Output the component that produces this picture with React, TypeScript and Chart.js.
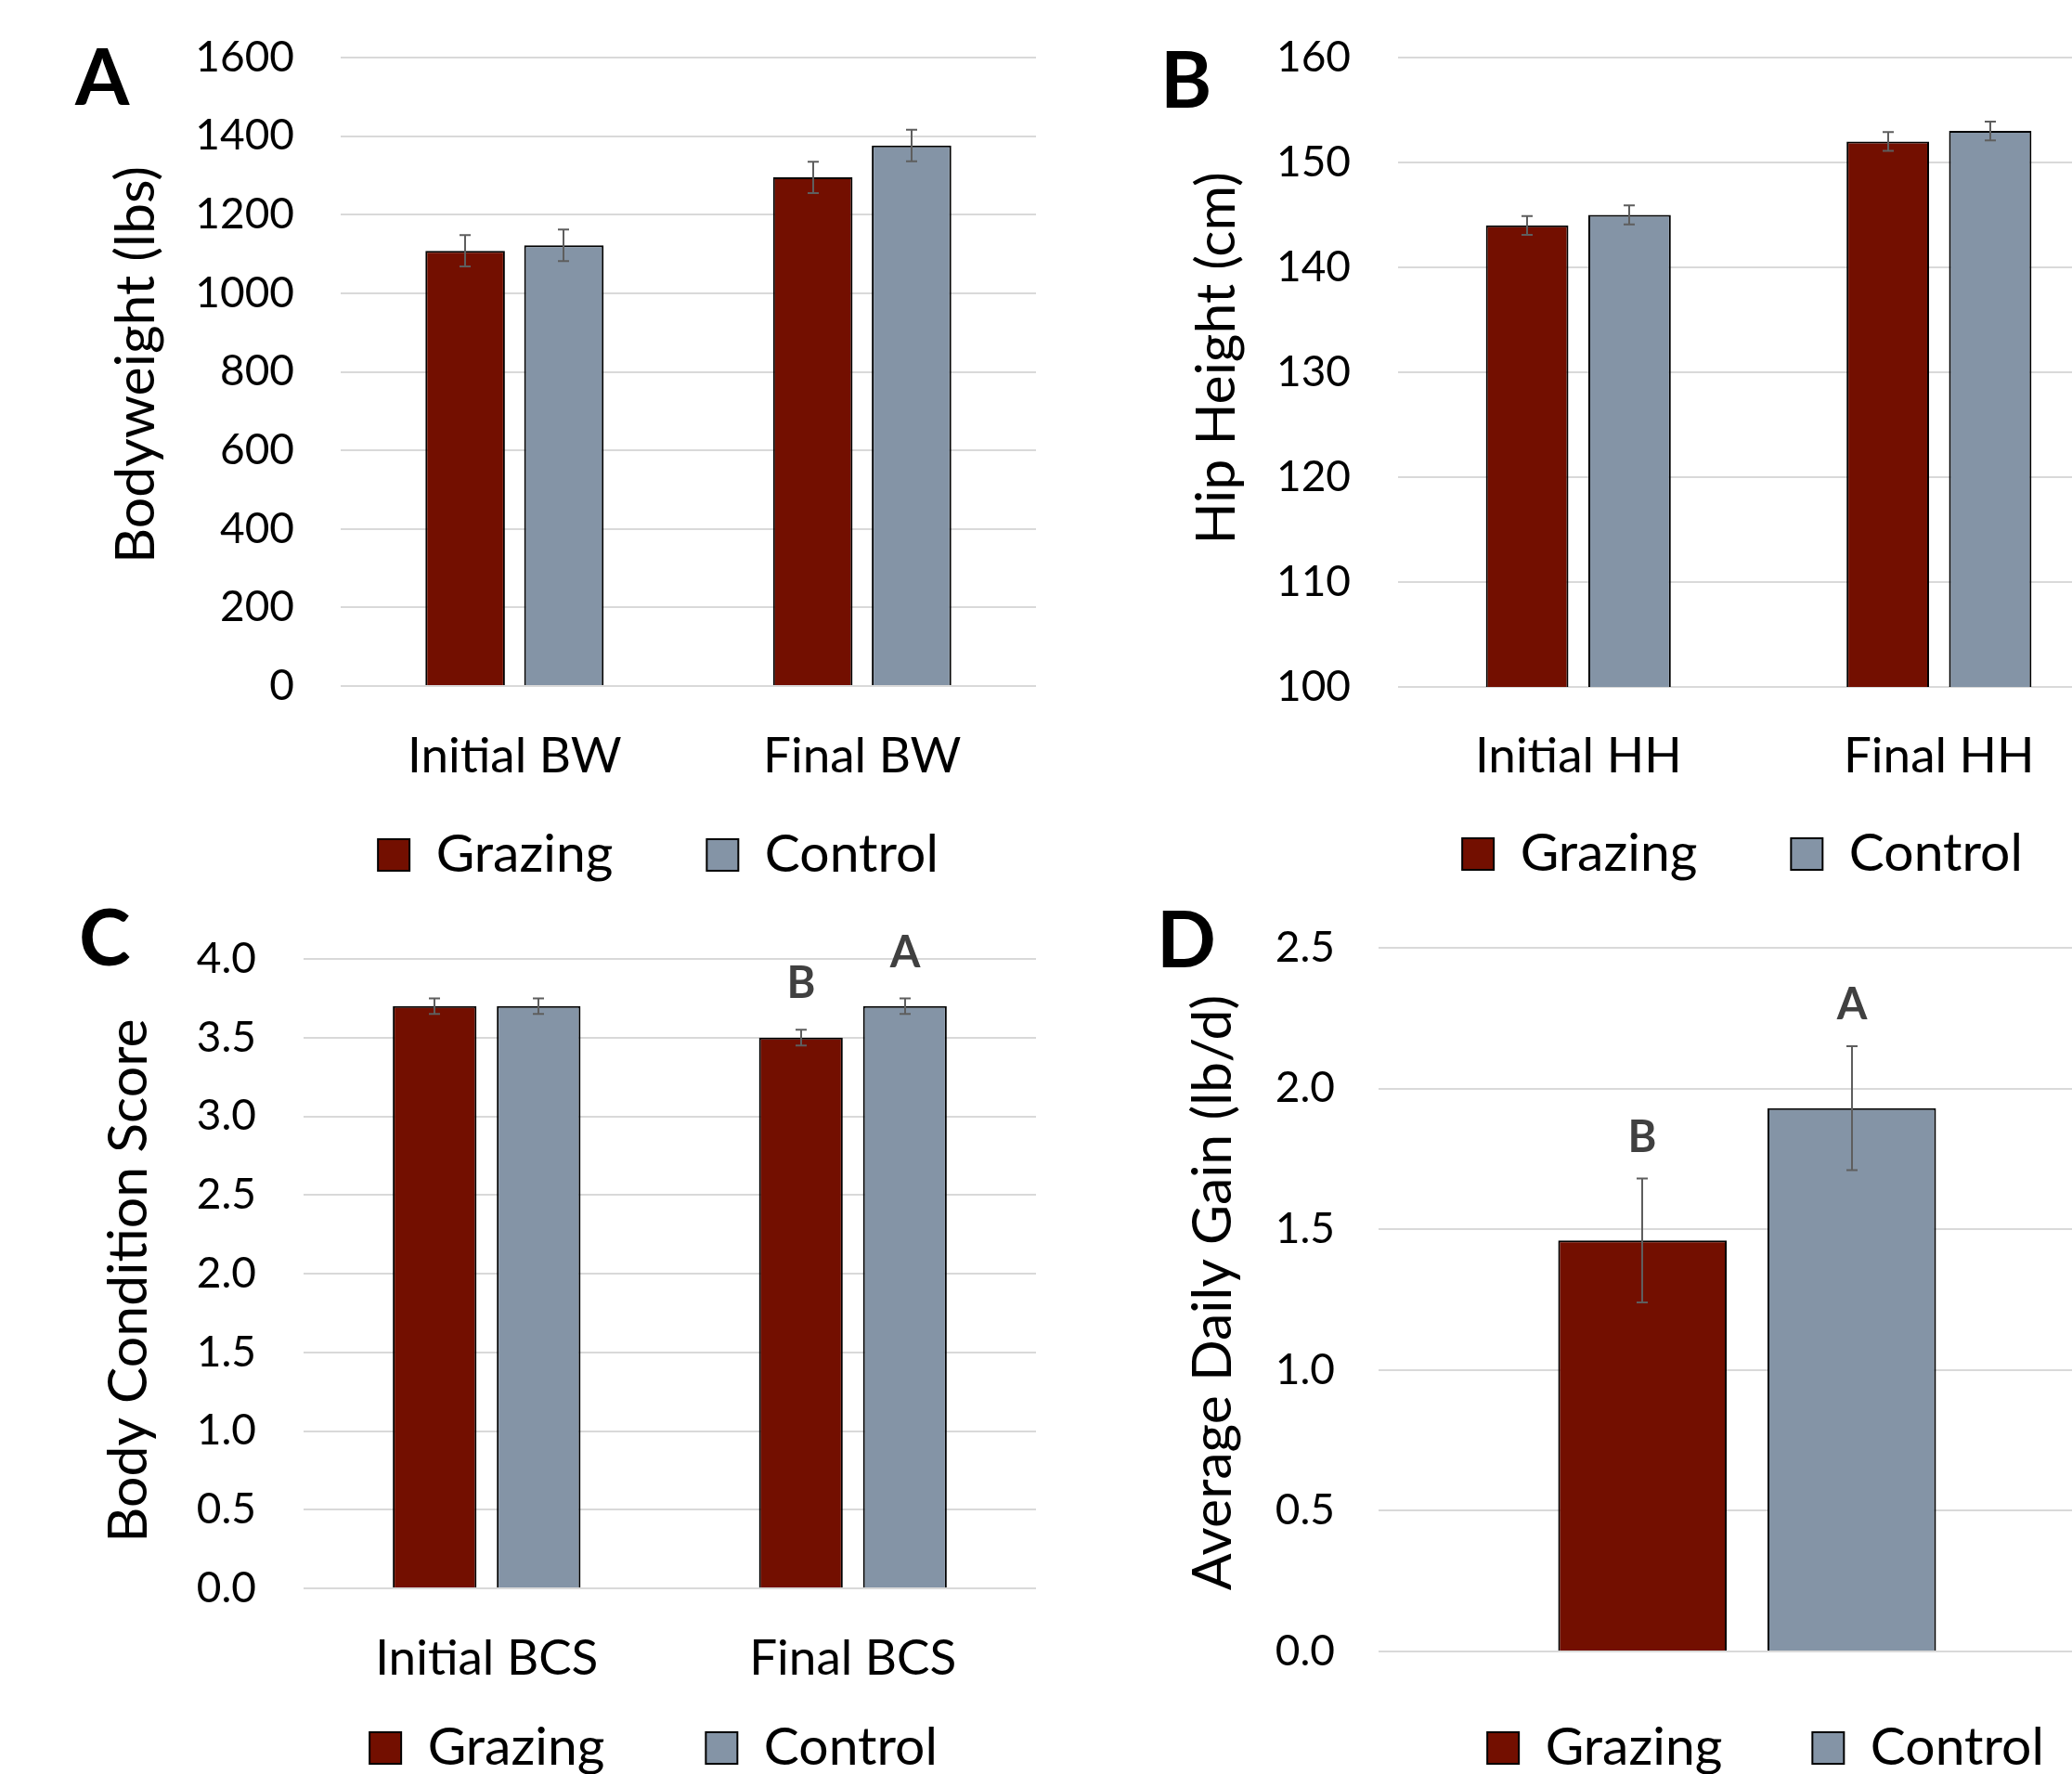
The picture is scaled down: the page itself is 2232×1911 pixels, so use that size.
import React, { useEffect, useRef } from 'react';
import { Chart, registerables } from 'chart.js';

Chart.register(...registerables);
Chart.defaults.font.family = 'Lato, "Open Sans", sans-serif';
Chart.defaults.color = '#000';

// ---------- data ----------
const seriesNames = ['Grazing', 'Control'];

// Panel A – Bodyweight
const bwCategories = ['Initial BW', 'Final BW'];
const bwGrazing = [1108, 1295];
const bwControl = [1122, 1376];
const bwGrazingErr = [40, 40];
const bwControlErr = [40, 40];
const bwTicks = [0, 200, 400, 600, 800, 1000, 1200, 1400, 1600];

// Panel B – Hip height
const hhCategories = ['Initial HH', 'Final HH'];
const hhGrazing = [144, 152];
const hhControl = [145, 153];
const hhGrazingErr = [0.9, 0.9];
const hhControlErr = [0.9, 0.9];
const hhTicks = [100, 110, 120, 130, 140, 150, 160];

// Panel C – Body condition score
const bcsCategories = ['Initial BCS', 'Final BCS'];
const bcsGrazing = [3.7, 3.5];
const bcsControl = [3.7, 3.7];
const bcsGrazingErr = [0.05, 0.05];
const bcsControlErr = [0.05, 0.05];
const bcsGrazingSig = ['', 'B'];
const bcsControlSig = ['', 'A'];
const bcsTicks = [0, 0.5, 1, 1.5, 2, 2.5, 3, 3.5, 4];

// Panel D – Average daily gain
const adgCategories = [''];
const adgGrazing = [1.46];
const adgControl = [1.93];
const adgGrazingErr = [0.22];
const adgControlErr = [0.22];
const adgGrazingSig = ['B'];
const adgControlSig = ['A'];
const adgTicks = [0, 0.5, 1, 1.5, 2, 2.5];

// ---------- styles ----------
const GRAZING_COLOR = '#730F00';
const CONTROL_COLOR = '#8494A6';
const GRID_COLOR = '#D9D9D9';
const ERR_COLOR = '#5E5E5E';

// ---------- plugins ----------
const errorBarsPlugin = {
  id: 'errorBars',
  afterDatasetsDraw(chart: any, _args: any, opts: any) {
    const ctx = chart.ctx;
    const yScale = chart.scales.y;
    chart.data.datasets.forEach((ds: any, i: number) => {
      const meta = chart.getDatasetMeta(i);
      meta.data.forEach((bar: any, j: number) => {
        const v = ds.data[j];
        const e = ds.errors ? ds.errors[j] : 0;
        const x = Math.round(bar.x);
        const yt = yScale.getPixelForValue(v + e);
        const yb = yScale.getPixelForValue(v - e);
        ctx.save();
        ctx.strokeStyle = ERR_COLOR;
        ctx.lineWidth = 2;
        ctx.beginPath();
        ctx.moveTo(x, yt);
        ctx.lineTo(x, yb);
        ctx.moveTo(x - 6, yt);
        ctx.lineTo(x + 6, yt);
        ctx.moveTo(x - 6, yb);
        ctx.lineTo(x + 6, yb);
        ctx.stroke();
        const s = ds.sig ? ds.sig[j] : '';
        if (s) {
          ctx.fillStyle = '#404040';
          ctx.font = 'bold 47px Lato, "Open Sans", sans-serif';
          ctx.textAlign = 'center';
          ctx.textBaseline = 'middle';
          ctx.fillText(s, x, yt - (opts.offset || 48));
        }
        ctx.restore();
      });
    });
  },
};

const panelLetterPlugin = {
  id: 'panelLetter',
  afterDraw(chart: any, _args: any, opts: any) {
    if (!opts || !opts.text) return;
    const ctx = chart.ctx;
    ctx.save();
    ctx.font = 'bold 84px Lato, "Open Sans", sans-serif';
    ctx.fillStyle = '#000';
    ctx.textAlign = 'left';
    ctx.textBaseline = 'alphabetic';
    ctx.fillText(opts.text, opts.x, opts.y);
    ctx.restore();
  },
};

const legendPlacePlugin = {
  id: 'legendPlace',
  afterLayout(chart: any, _args: any, opts: any) {
    const lg = chart.legend;
    if (!lg || opts.cx == null) return;
    const w = lg.right - lg.left;
    const h = lg.bottom - lg.top;
    lg.left = opts.cx - w / 2;
    lg.right = lg.left + w;
    lg.top = opts.cy - opts.gap - opts.itemHeight / 2;
    lg.bottom = lg.top + h;
  },
};

// ---------- layout specs ----------
const LEGEND_FONT = 57;
const BOX = 34;
const TITLE_FONT = 59;
const CAT_FONT = 53;

const panels: any[] = [
  {
    key: 'A', left: 0, top: 0, width: 1116, height: 1027,
    plotTop: 62, axisWidth: 367, xAxisHeight: 120,
    categories: bwCategories, grazing: bwGrazing, control: bwControl,
    grazingErr: bwGrazingErr, controlErr: bwControlErr,
    ticks: bwTicks, decimals: 0, yTitle: ' Bodyweight (lbs)', titlePad: 112,
    yTickPad: 50, xTickPad: 44, letter: 'A', letterX: 81, letterY: 113,
    legendX: 709, legendY: 921, legendGap: 101, sigOffset: 48,
  },
  {
    key: 'B', left: 1116, top: 0, width: 1167, height: 1028,
    plotTop: 62, axisWidth: 390, xAxisHeight: 120,
    categories: hhCategories, grazing: hhGrazing, control: hhControl,
    grazingErr: hhGrazingErr, controlErr: hhControlErr,
    ticks: hhTicks, decimals: 0, yTitle: '  Hip Height (cm)', titlePad: 160,
    yTickPad: 51, xTickPad: 43, letter: 'B', letterX: 134, letterY: 116,
    legendX: 761, legendY: 920, legendGap: 101, sigOffset: 48,
  },
  {
    key: 'C', left: 0, top: 960, width: 1116, height: 1047,
    plotTop: 73, axisWidth: 327, xAxisHeight: 120,
    categories: bcsCategories, grazing: bcsGrazing, control: bcsControl,
    grazingErr: bcsGrazingErr, controlErr: bcsControlErr,
    grazingSig: bcsGrazingSig, controlSig: bcsControlSig,
    ticks: bcsTicks, decimals: 1, yTitle: 'Body Condition Score ', titlePad: 104,
    yTickPad: 51, xTickPad: 44, letter: 'C', letterX: 85, letterY: 80,
    legendX: 704, legendY: 923, legendGap: 109, sigOffset: 49,
  },
  {
    key: 'D', left: 1116, top: 960, width: 1163, height: 993,
    plotTop: 61, axisWidth: 369, xAxisHeight: 10,
    categories: adgCategories, grazing: adgGrazing, control: adgControl,
    grazingErr: adgGrazingErr, controlErr: adgControlErr,
    grazingSig: adgGrazingSig, controlSig: adgControlSig,
    ticks: adgTicks, decimals: 1, yTitle: ' Average Daily Gain (lb/d)', titlePad: 156,
    yTickPad: 47, xTickPad: 43, letter: 'D', letterX: 130, letterY: 82,
    legendX: 786, legendY: 923, legendGap: 97, sigOffset: 44,
  },
];

function buildConfig(p: any): any {
  const common = {
    borderColor: '#000',
    borderWidth: 2,
    categoryPercentage: 0.568,
    barPercentage: 0.805,
  };
  return {
    type: 'bar',
    data: {
      labels: p.categories,
      datasets: [
        { ...common, label: seriesNames[0], data: p.grazing, errors: p.grazingErr, sig: p.grazingSig, backgroundColor: GRAZING_COLOR },
        { ...common, label: seriesNames[1], data: p.control, errors: p.controlErr, sig: p.controlSig, backgroundColor: CONTROL_COLOR },
      ],
    },
    options: {
      responsive: false,
      animation: false,
      devicePixelRatio: 1,
      events: [],
      layout: { padding: { top: p.plotTop, left: 0, right: 0, bottom: 0 } },
      scales: {
        x: {
          grid: { display: false, drawTicks: false },
          border: { display: false },
          ticks: { font: { size: CAT_FONT }, color: '#000', padding: p.xTickPad, maxRotation: 0, autoSkip: false },
          afterFit: (s: any) => {
            s.height = p.xAxisHeight;
            s.paddingLeft = 0;
            s.paddingRight = 0;
          },
        },
        y: {
          min: p.ticks[0],
          max: p.ticks[p.ticks.length - 1],
          afterBuildTicks: (s: any) => { s.ticks = p.ticks.map((v: number) => ({ value: v })); },
          ticks: {
            font: { size: 46 },
            color: '#000',
            padding: p.yTickPad,
            callback: (v: any) => Number(v).toFixed(p.decimals),
          },
          grid: { color: GRID_COLOR, lineWidth: 2, drawTicks: false },
          border: { display: false },
          title: {
            display: true,
            text: p.yTitle,
            font: { size: TITLE_FONT },
            color: '#000',
            padding: { top: p.titlePad, bottom: 0 },
          },
          afterFit: (s: any) => {
            s.width = p.axisWidth;
            s.paddingTop = 0;
            s.paddingBottom = 0;
          },
        },
      },
      plugins: {
        legend: {
          display: true,
          position: 'bottom',
          labels: {
            font: { size: LEGEND_FONT },
            color: '#000',
            boxWidth: BOX,
            boxHeight: BOX,
            padding: p.legendGap,
          },
        },
        tooltip: { enabled: false },
        errorBars: { offset: p.sigOffset },
        panelLetter: { text: p.letter, x: p.letterX, y: p.letterY },
        legendPlace: { cx: p.legendX, cy: p.legendY, gap: p.legendGap, itemHeight: Math.max(LEGEND_FONT, BOX) },
      },
    },
    plugins: [errorBarsPlugin, panelLetterPlugin, legendPlacePlugin],
  };
}

function Panel({ spec }: { spec: any }) {
  const ref = useRef<HTMLCanvasElement | null>(null);
  useEffect(() => {
    if (!ref.current) return;
    const chart = new Chart(ref.current, buildConfig(spec));
    return () => chart.destroy();
  }, [spec]);
  return (
    <canvas
      ref={ref}
      width={spec.width}
      height={spec.height}
      style={{ position: 'absolute', left: spec.left, top: spec.top, width: spec.width, height: spec.height }}
    />
  );
}

export default function App() {
  return (
    <div
      style={{
        position: 'fixed',
        left: 0,
        top: 0,
        width: 2232,
        height: 1911,
        overflow: 'hidden',
        background: '#fff',
      }}
    >
      {panels.map((p) => (
        <Panel key={p.key} spec={p} />
      ))}
    </div>
  );
}
